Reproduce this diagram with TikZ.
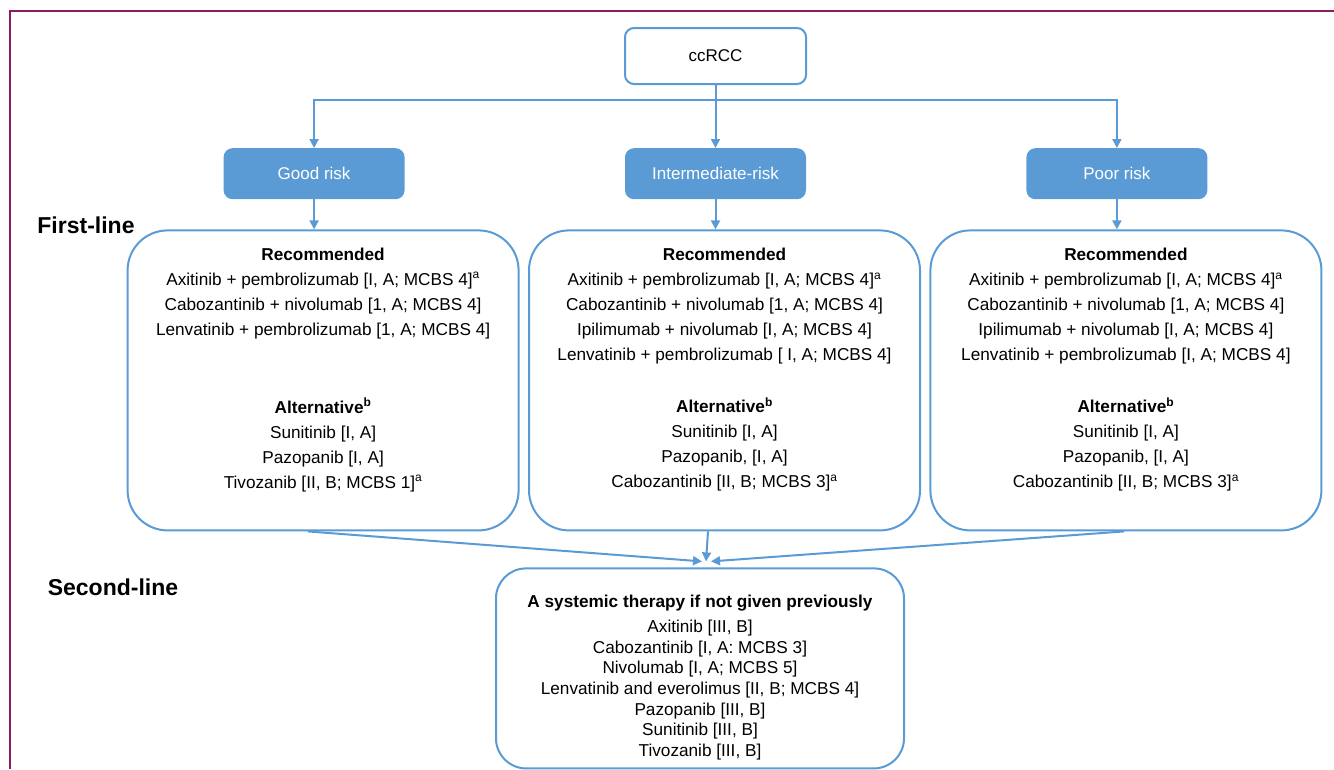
\documentclass[tikz,border=0pt]{standalone}
\usepackage{fontspec}
\setmainfont{Liberation Sans}
\usepackage{xcolor}
\usetikzlibrary{positioning,arrows.meta}
\definecolor{boxblue}{HTML}{5B9BD5}
\definecolor{framered}{HTML}{8E1C5C}

\begin{document}
\begin{tikzpicture}[%ccRCC algorithm
  x=1pt, y=1pt,
  startnode/.style={rectangle, rounded corners=9pt, draw=boxblue, line width=2pt, fill=white, minimum width=181pt, minimum height=56pt, font=\fontsize{17}{20}\selectfont},
  risknode/.style={rectangle, rounded corners=9pt, fill=boxblue, text=white, minimum width=181pt, minimum height=51pt, font=\fontsize{17}{20}\selectfont},
  listnode/.style={rectangle, rounded corners=40pt, draw=boxblue, line width=2pt, minimum width=391pt, minimum height=300pt, align=center, font=\fontsize{17.2}{25}\selectfont},
  secondnode/.style={rectangle, rounded corners=30pt, draw=boxblue, line width=2pt, minimum width=408pt, minimum height=200pt, align=center, font=\fontsize{17.2}{20.6}\selectfont},
  linelabel/.style={font=\fontsize{23}{27}\selectfont\bfseries},
  arrow/.style={draw=boxblue, line width=2pt, -{Triangle[length=9pt,width=9pt]}}
]
\useasboundingbox (0,0) rectangle (1334,-769);

%Frame
\draw[framered, line width=2pt] (10,-769) -- (10,-11) -- (1334,-11);

%Nodes
\node[startnode] (ccrcc) at (715.5,-56) {ccRCC};
\node[risknode, below=63pt of ccrcc] (inter) {Intermediate-risk};
\node[risknode, left=220pt of inter] (good) {Good risk};
\node[risknode, right=220pt of inter] (poor) {Poor risk};

\node[listnode, below=30pt of good, xshift=9pt] (goodbox) {\textbf{Recommended}\\
Axitinib + pembrolizumab [I, A; MCBS 4]\textsuperscript{a}\\
Cabozantinib + nivolumab [1, A; MCBS 4]\\
Lenvatinib + pembrolizumab [1, A; MCBS 4]\\[53pt]
\textbf{Alternative\textsuperscript{b}}\\
Sunitinib [I, A]\\
Pazopanib [I, A]\\
Tivozanib [II, B; MCBS 1]\textsuperscript{a}\rule[-25pt]{0pt}{0pt}};

\node[listnode, below=30pt of inter, xshift=9pt] (interbox) {\textbf{Recommended}\\
Axitinib + pembrolizumab [I, A; MCBS 4]\textsuperscript{a}\\
Cabozantinib + nivolumab [1, A; MCBS 4]\\
Ipilimumab + nivolumab [I, A; MCBS 4]\\
Lenvatinib + pembrolizumab [ I, A; MCBS 4]\\[27pt]
\textbf{Alternative\textsuperscript{b}}\\
Sunitinib [I, A]\\
Pazopanib, [I, A]\\
Cabozantinib [II, B; MCBS 3]\textsuperscript{a}\rule[-25pt]{0pt}{0pt}};

\node[listnode, below=30pt of poor, xshift=9pt] (poorbox) {\textbf{Recommended}\\
Axitinib + pembrolizumab [I, A; MCBS 4]\textsuperscript{a}\\
Cabozantinib + nivolumab [1, A; MCBS 4]\\
Ipilimumab + nivolumab [I, A; MCBS 4]\\
Lenvatinib + pembrolizumab [I, A; MCBS 4]\\[27pt]
\textbf{Alternative\textsuperscript{b}}\\
Sunitinib [I, A]\\
Pazopanib, [I, A]\\
Cabozantinib [II, B; MCBS 3]\textsuperscript{a}\rule[-25pt]{0pt}{0pt}};

\node[secondnode, below=36pt of interbox, xshift=-24.5pt] (secondbox) {\rule{0pt}{30pt}\textbf{A systemic therapy if not given previously}\\[5pt]
Axitinib [III, B]\\
Cabozantinib [I, A: MCBS 3]\\
Nivolumab [I, A; MCBS 5]\\
Lenvatinib and everolimus [II, B; MCBS 4]\\
Pazopanib [III, B]\\
Sunitinib [III, B]\\
Tivozanib [III, B]};

\node[linelabel] (firstline) at (86,-225) {First-line};
\node[linelabel] (secondline) at (113,-587) {Second-line};

%Arrows
\coordinate[below=15pt of ccrcc] (split);
\coordinate[above=6pt of secondbox.north, xshift=6pt] (meet);
\draw[arrow] (ccrcc) -- (inter);
\draw[arrow] (split) -| (good.north);
\draw[arrow] (split) -| (poor.north);
\draw[arrow] (good) -- (good.south |- goodbox.north);
\draw[arrow] (inter) -- (inter.south |- interbox.north);
\draw[arrow] (poor) -- (poor.south |- poorbox.north);
\draw[arrow] ([xshift=-15.5pt]goodbox.south) -- ([xshift=-4pt]meet);
\draw[arrow] ([xshift=-16.5pt]interbox.south) -- (meet);
\draw[arrow] ([xshift=-1.5pt]poorbox.south) -- ([xshift=5pt]meet);
\end{tikzpicture}
\end{document}
